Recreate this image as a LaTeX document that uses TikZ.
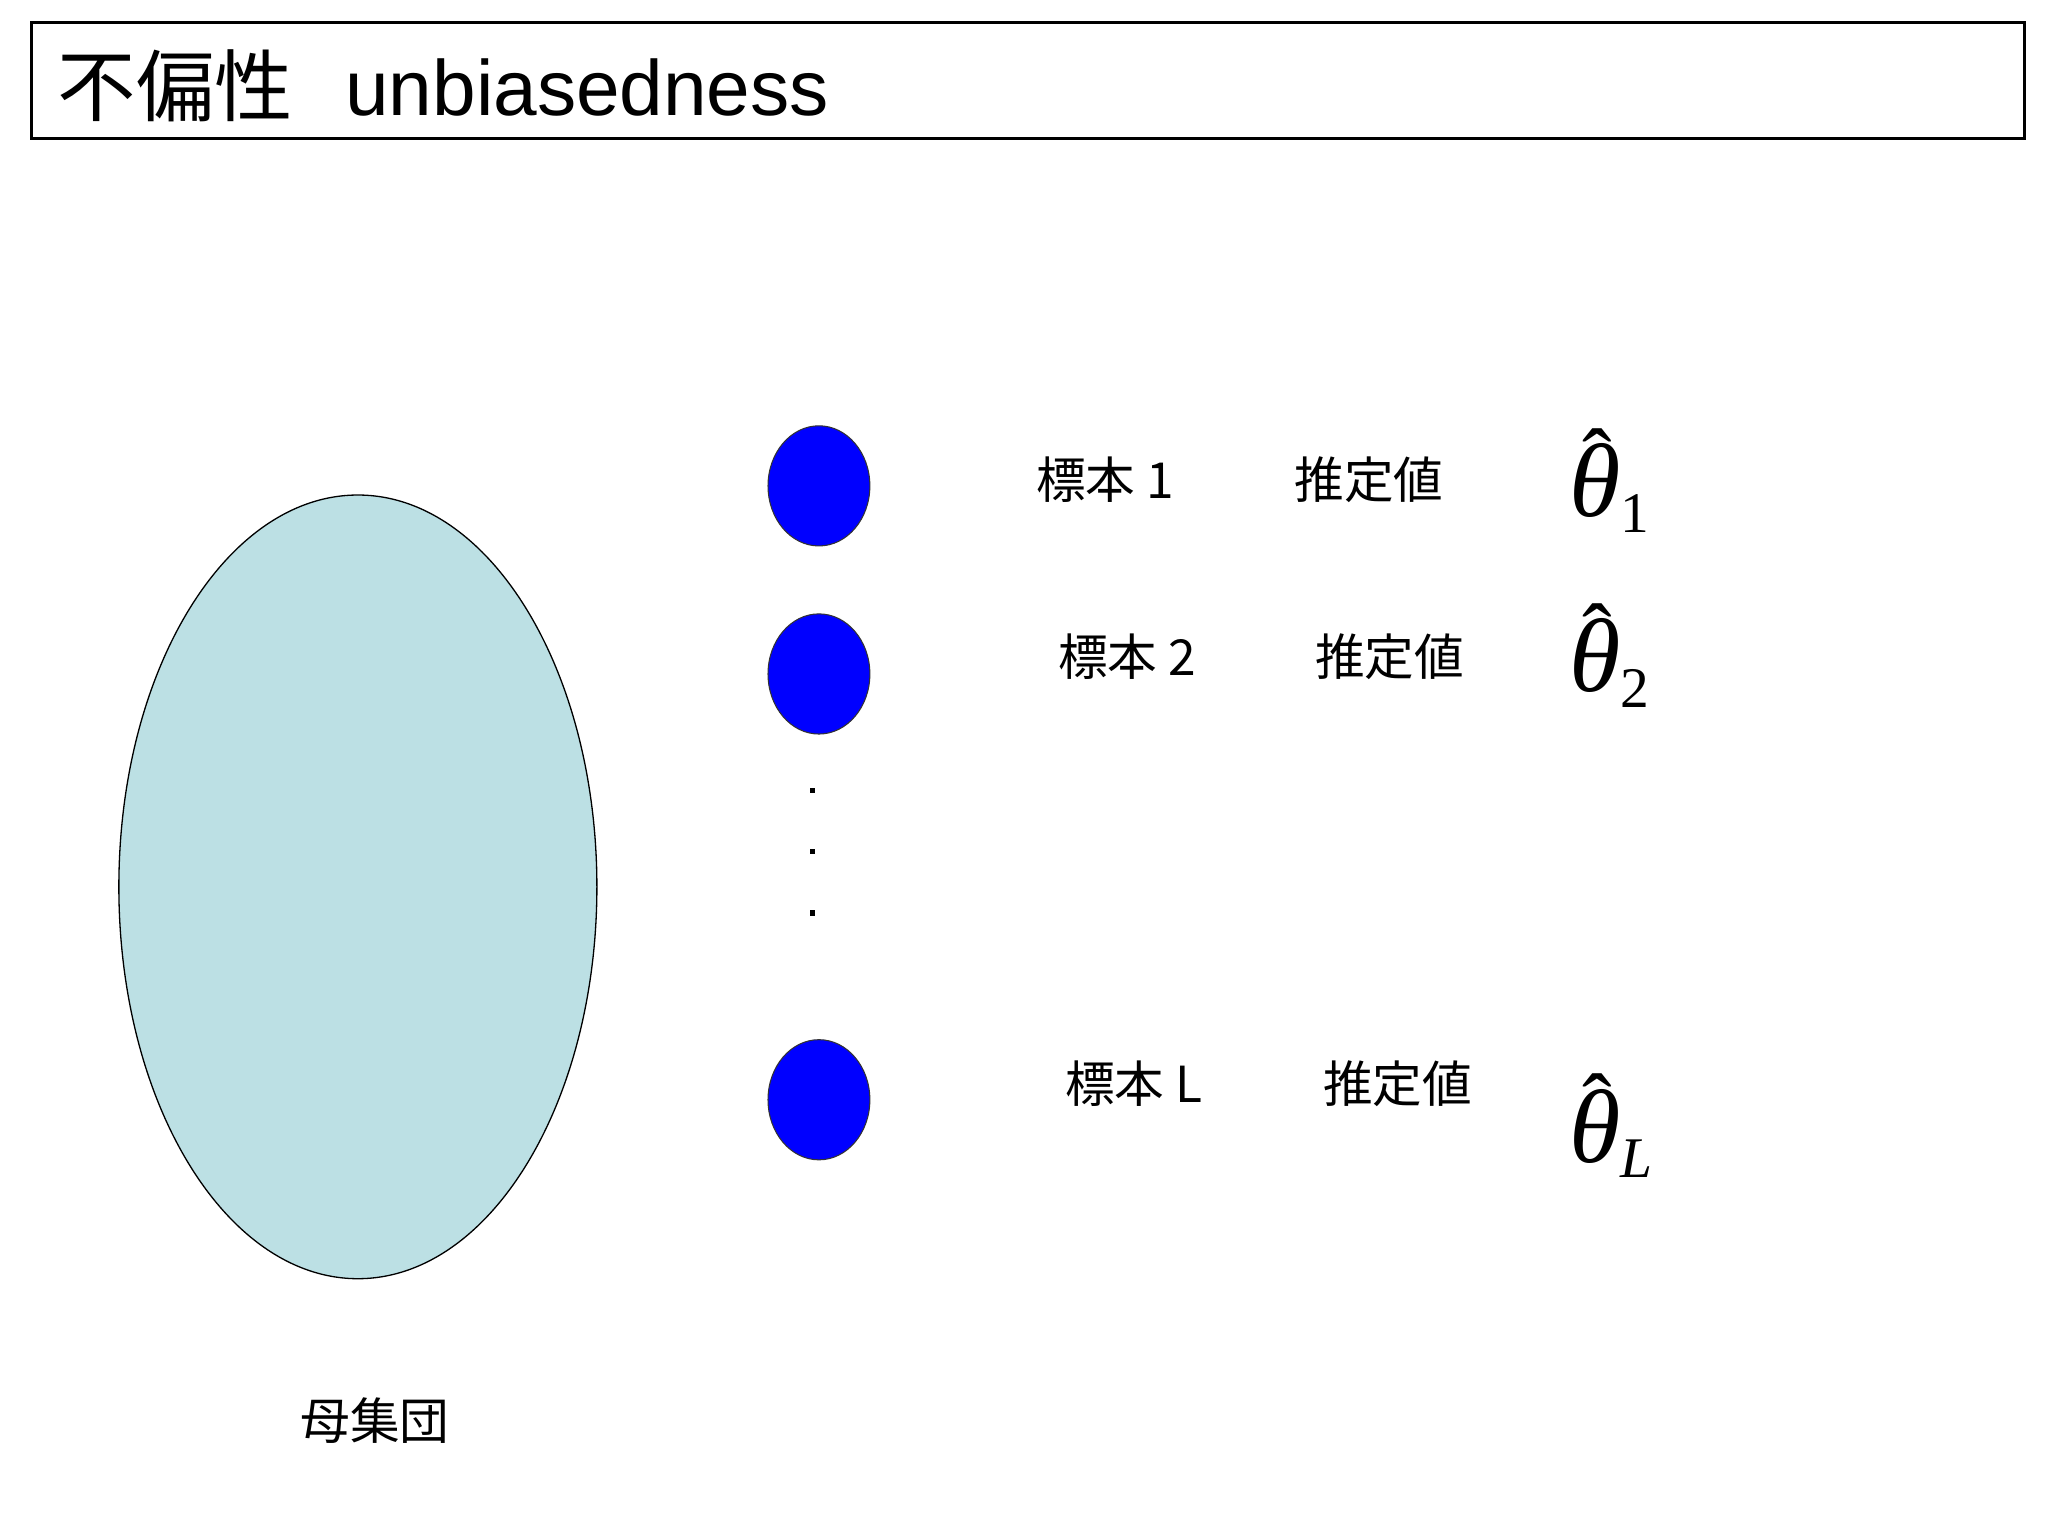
\documentclass[tikz,border=0pt]{standalone}
\usepackage{fontspec}
\setmainfont{Liberation Sans}
\newfontfamily\cjk{Noto Sans CJK JP}
\newfontfamily\tms{Liberation Serif}
\newcommand{\esthat}[1]{\tms\fontsize{40}{40}\selectfont\rlap{\hspace{5pt}\raisebox{10pt}{\fontsize{34}{34}\selectfont ˆ}}\textit{θ}\raisebox{-6pt}{\fontsize{22}{22}\selectfont #1}}
\begin{document}
\begin{tikzpicture}[x=0.5pt,y=-0.5pt,
  lab/.style={font=\cjk\fontsize{19}{21}\selectfont,inner sep=0pt},
  est/.style={inner sep=0pt,anchor=west},
  dotn/.style={fill=black,minimum size=2pt,inner sep=0pt}]
\useasboundingbox (0,0) rectangle (1568,1176);
\node[draw,line width=1.2pt,minimum width=763pt,minimum height=44.5pt,inner sep=0pt] (title) at (787,61.5) {};
\node[anchor=west,inner sep=0pt,font=\fontsize{30}{32}\selectfont] (tt) at (44,66) {{\cjk 不偏性}\hspace{20pt}unbiasedness};
\draw[fill={rgb,255:red,188;green,224;blue,228},line width=0.5pt] (274,679) ellipse [x radius=183,y radius=300];
\node[lab] (pop) at (287,1088) {母集団};
\draw[fill=blue,draw=black!80] (627,372) ellipse [x radius=39,y radius=46];
\draw[fill=blue,draw=black!80] (627,516) ellipse [x radius=39,y radius=46];
\draw[fill=blue,draw=black!80] (627,842) ellipse [x radius=39,y radius=46];
\node[dotn] (d1) at (622,605) {};
\node[dotn] (d2) at (622,652) {};
\node[dotn] (d3) at (622,699) {};
\node[lab] (l1) at (846,367) {標本 1};
\node[lab] (e1) at (1048,367) {推定値};
\node[est] (t1) at (1201,368) {\esthat{1}};
\node[lab] (l2) at (863,503) {標本 2};
\node[lab] (e2) at (1064,503) {推定値};
\node[est] (t2) at (1201,502) {\esthat{2}};
\node[lab] (lL) at (868,830) {標本 L};
\node[lab] (eL) at (1070,830) {推定値};
\node[est] (tL) at (1201,862) {\esthat{\textit{L}}};
\end{tikzpicture}
\end{document}
